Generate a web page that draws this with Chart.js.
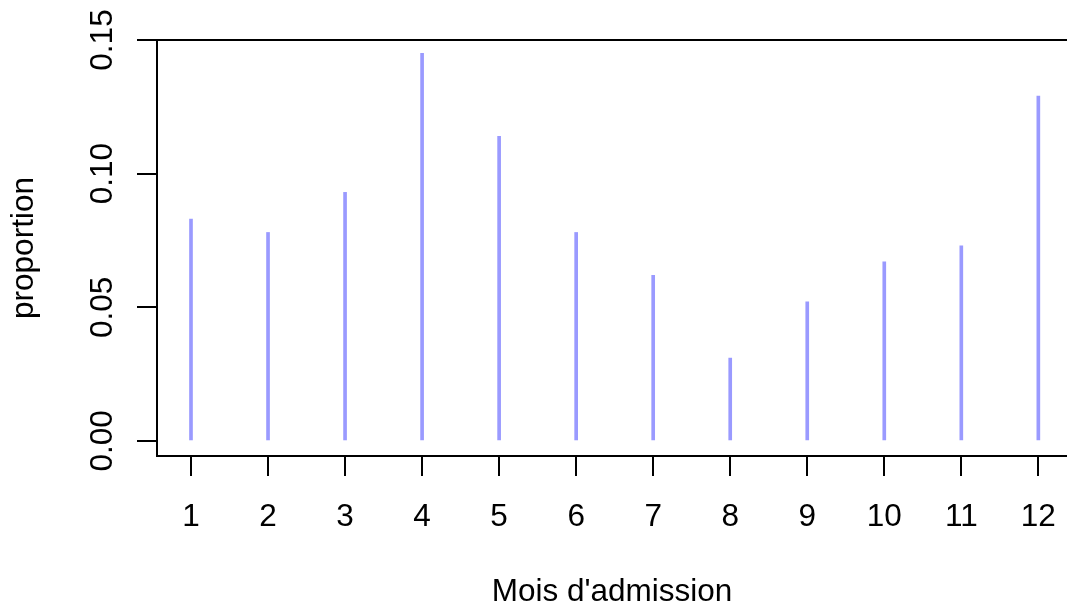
<!DOCTYPE html>
<html lang="fr">

<head>
    <meta charset="utf-8">
    <title>Mois d'admission</title>
    <script src="https://cdn.jsdelivr.net/npm/chart.js"></script>
    <style>
        body {
            margin: 0;
            background: #ffffff;
        }

        #wrap {
            width: 1067px;
            height: 608px;
            position: relative;
        }
    </style>
</head>

<body>
    <div id="wrap"><canvas id="myChart"></canvas></div>

    <script>
        // proportion of admissions per month
        const months = [1, 2, 3, 4, 5, 6, 7, 8, 9, 10, 11, 12];
        const proportions = [0.083, 0.078, 0.093, 0.145, 0.114, 0.078, 0.062, 0.031, 0.052, 0.067, 0.073, 0.129];
        const yTicks = [0, 0.05, 0.10, 0.15];
        const yTickLabels = ['0.00', '0.05', '0.10', '0.15'];

        const FONT = '"Liberation Sans", Arial, Helvetica, sans-serif';
        const FONT_SIZE = 31.5;

        // y tick labels are drawn rotated, reading bottom to top
        const rotatedYLabels = {
            id: 'rotatedYLabels',
            afterDraw(chart) {
                const ctx = chart.ctx;
                const y = chart.scales.y;
                ctx.save();
                ctx.font = FONT_SIZE + 'px ' + FONT;
                ctx.fillStyle = '#000';
                ctx.textAlign = 'center';
                ctx.textBaseline = 'alphabetic';
                yTicks.forEach((v, i) => {
                    ctx.save();
                    ctx.translate(112, y.getPixelForValue(v));
                    ctx.rotate(-Math.PI / 2);
                    ctx.fillText(yTickLabels[i], 0, 0);
                    ctx.restore();
                });
                ctx.restore();
            }
        };

        const data = {
            datasets: [{
                data: months.map((m, i) => ({ x: m, y: proportions[i] })),
                backgroundColor: '#9a9aff',
                borderWidth: 0,
                barThickness: 3
            }]
        };

        const config = {
            type: 'bar',
            data: data,
            options: {
                responsive: true,
                maintainAspectRatio: false,
                animation: false,
                layout: { padding: 0 },
                scales: {
                    x: {
                        type: 'linear',
                        position: 'bottom',
                        offset: false,
                        min: 0.5586,
                        max: 12.372,
                        afterBuildTicks: (s) => { s.ticks = months.map(v => ({ value: v })); },
                        afterFit: (s) => {
                            s.height = 152;
                            s.paddingLeft = 0;
                            s.paddingRight = 0;
                        },
                        grid: {
                            offset: false,
                            drawOnChartArea: false,
                            drawTicks: true,
                            tickLength: 20,
                            color: '#000',
                            lineWidth: 2
                        },
                        border: { display: true, color: '#000', width: 2 },
                        ticks: {
                            color: '#000',
                            padding: 22,
                            maxRotation: 0,
                            autoSkip: false,
                            font: { family: FONT, size: FONT_SIZE }
                        },
                        title: {
                            display: true,
                            text: "Mois d'admission",
                            color: '#000',
                            padding: { top: 0, bottom: 0 },
                            font: { family: FONT, size: FONT_SIZE, lineHeight: 1 }
                        }
                    },
                    // top edge of the box
                    x2: {
                        type: 'linear',
                        position: 'top',
                        min: 0,
                        max: 1,
                        afterFit: (s) => {
                            s.height = 40;
                            s.paddingLeft = 0;
                            s.paddingRight = 0;
                        },
                        grid: { display: false, drawTicks: false, tickLength: 0 },
                        border: { display: true, color: '#000', width: 2 },
                        ticks: { display: false }
                    },
                    y: {
                        type: 'linear',
                        position: 'left',
                        min: -0.00563,
                        max: 0.15,
                        afterBuildTicks: (s) => { s.ticks = yTicks.map(v => ({ value: v })); },
                        afterFit: (s) => { s.width = 157; },
                        grid: {
                            drawOnChartArea: false,
                            drawTicks: true,
                            tickLength: 20,
                            color: '#000',
                            lineWidth: 2
                        },
                        border: { display: true, color: '#000', width: 2 },
                        ticks: { display: false },
                        title: {
                            display: true,
                            text: 'proportion',
                            color: '#000',
                            padding: { top: 9, bottom: 0 },
                            font: { family: FONT, size: FONT_SIZE, lineHeight: 1 }
                        }
                    }
                },
                plugins: {
                    legend: { display: false },
                    tooltip: { enabled: false }
                }
            },
            plugins: [rotatedYLabels]
        };

        const myChart = new Chart(document.getElementById('myChart'), config);
    </script>
</body>

</html>
